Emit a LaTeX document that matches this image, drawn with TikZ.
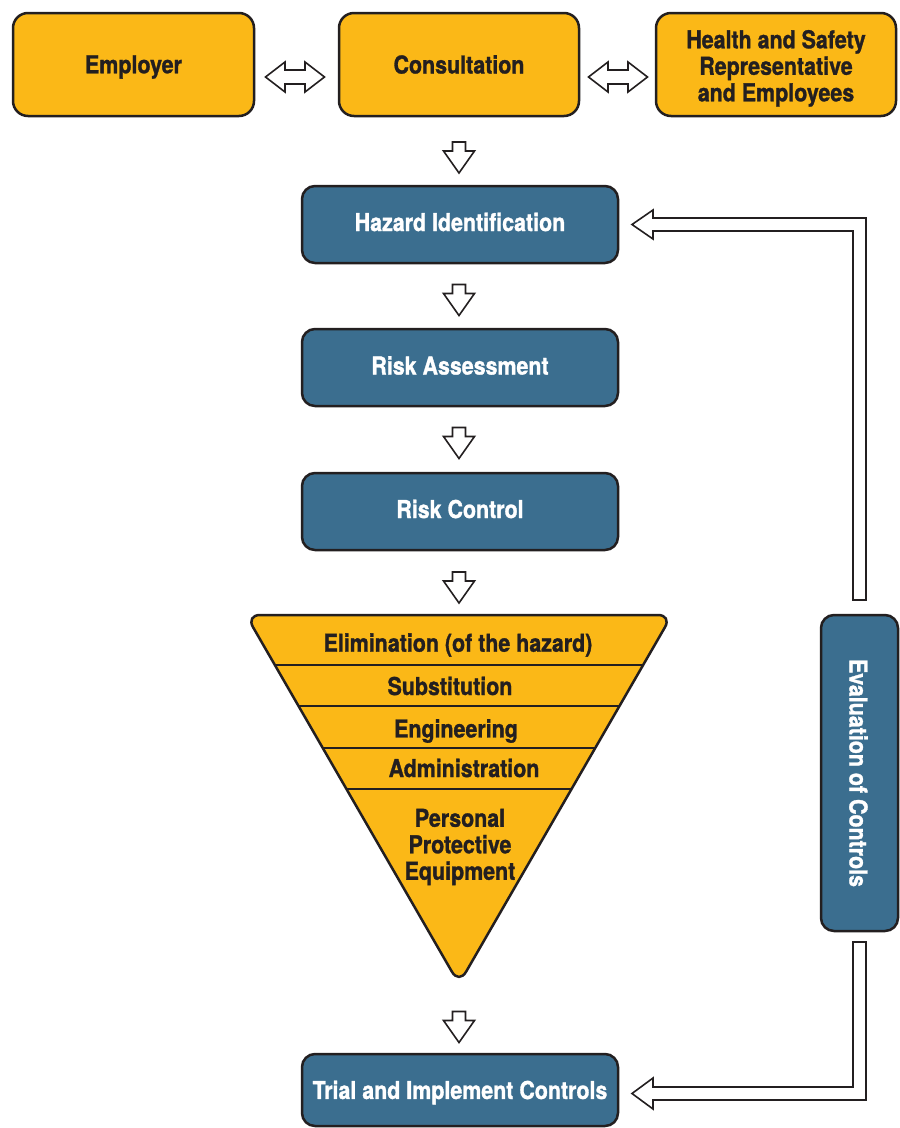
\documentclass[tikz,border=0pt]{standalone}
\usepackage{fontspec}
\newfontfamily\dfont{TeX Gyre Heros}[FakeStretch=0.87, FakeBold=1.2]
\usetikzlibrary{calc}
\definecolor{ybox}{HTML}{FBB817}
\definecolor{bbox}{HTML}{3B6E8F}
\definecolor{ink}{HTML}{231F20}
\newcommand{\mvtext}[2]{\raisebox{#1}[\height][\depth]{#2}}
\begin{document}
\begin{tikzpicture}[x=1pt,y=-1pt,
  base/.style={draw=ink, line width=2.5pt, rounded corners=15pt,
    font=\dfont\bfseries\fontsize{24.6}{26.5}\selectfont, align=center, inner sep=0pt},
  yellowbox/.style={base, fill=ybox, text=ink, minimum height=103pt},
  bluebox/.style={base, fill=bbox, text=white, rounded corners=13pt, minimum width=316pt, minimum height=77pt},
  lab/.style={font=\dfont\bfseries\fontsize{24.6}{26.5}\selectfont, text=ink, align=center, inner sep=0pt},
  hollow/.style={draw=ink, line width=1.6pt, fill=white, line join=miter},
  downarr/.pic={\path[hollow] (-6.5,-15.5) -- (6.5,-15.5) -- (6.5,-6.5) -- (15.5,-6.5) -- (0,15.5) -- (-15.5,-6.5) -- (-6.5,-6.5) -- cycle;},
  dblarr/.pic={\path[hollow] (-29.5,0) -- (-10,-15) -- (-10,-7) -- (10,-7) -- (10,-15) -- (29.5,0) -- (10,15) -- (10,7) -- (-10,7) -- (-10,15) -- cycle;}
]
\useasboundingbox (0,0) rectangle (900,1128);

% top row
\node[yellowbox, minimum width=241pt] (emp) at (133.5,64.5) {\mvtext{-2.5pt}{Employer}};
\node[yellowbox, minimum width=240pt] (cons) at (459,64.5) {Consultation};
\node[yellowbox, minimum width=240pt] (hs) at (776,64.5) {\mvtext{-5pt}{\begin{tabular}{@{}c@{}}Health and Safety\\Representative\\and Employees\end{tabular}}};
\pic at (295,77) {dblarr};
\pic at (618,77) {dblarr};

% main column
\node[bluebox] (haz) at (460,224.5) {\mvtext{2.5pt}{Hazard Identification}};
\node[bluebox] (ra) at (460,367.5) {\mvtext{2pt}{Risk Assessment}};
\node[bluebox] (rc) at (460,511.5) {\mvtext{2.5pt}{Risk Control}};
\node[bluebox, minimum height=72pt] (trial) at (460,1090) {\mvtext{-2.5pt}{Trial and Implement Controls}};

\pic at (459,157.5) {downarr};
\pic at (459,300) {downarr};
\pic at (459,443) {downarr};
\pic at (459,587.5) {downarr};
\pic at (459,1027) {downarr};

% hierarchy triangle
\def\tri{(246,615) -- (672,615) -- (459,984) -- cycle}
\fill[ybox, rounded corners=14pt] \tri;
\begin{scope}
  \clip[rounded corners=14pt] \tri;
  \foreach \yy in {665,706,748,789} \draw[ink, line width=2.5pt] (200,\yy) -- (720,\yy);
\end{scope}
\draw[ink, line width=2.5pt, rounded corners=14pt] \tri;
\node[lab] (l1) at (458,645) {Elimination (of the hazard)};
\node[lab] (l2) at (450,686) {Substitution};
\node[lab] (l3) at (456,731) {Engineering};
\node[lab] (l4) at (464,768) {Administration};
\node[lab] (l5) at (460,847) {Personal\\Protective\\Equipment};

% evaluation
\node[bluebox, rotate=-90, minimum width=316pt, minimum height=77pt] (eval) at (859.5,773) {\mvtext{-1pt}{Evaluation of Controls}};

% feedback arrows
\path[hollow] (866,600) -- (866,218) -- (653,218) -- (653,210) -- (632,224.5) -- (653,239) -- (653,231) -- (853,231) -- (853,600) -- cycle;
\path[hollow] (853,942) -- (853,1087) -- (653,1087) -- (653,1078) -- (632,1093.5) -- (653,1109) -- (653,1100) -- (866,1100) -- (866,942) -- cycle;
\end{tikzpicture}
\end{document}
